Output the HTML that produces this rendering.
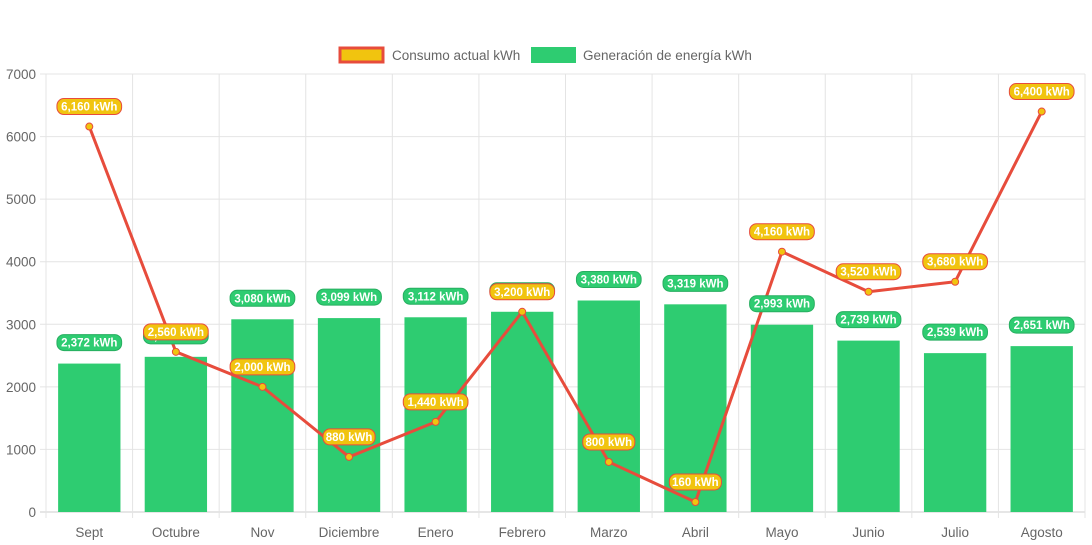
<!DOCTYPE html>
<html><head><meta charset="utf-8"><style>
body{margin:0;background:#fff;font-family:"Liberation Sans",Arial,sans-serif}
svg{display:block}
</style></head><body>
<svg id="chart" width="1092" height="545" xmlns="http://www.w3.org/2000/svg" font-family="Liberation Sans, Arial, sans-serif">
<g>
<g><rect x="340" y="48" width="43" height="14" fill="#f1c40f" stroke="#e74c3c" stroke-width="3"/><text x="392" y="60" font-size="13.5" fill="#666">Consumo actual kWh</text></g>
<g><rect x="531" y="47" width="45" height="16" fill="#2ecc71"/><text x="583" y="60" font-size="13.5" fill="#666">Generación de energía kWh</text></g>
</g>
<g id="grid"></g><g id="bars"></g><g id="line"></g><g id="labels"></g><g id="axes"></g>
</svg>
<script>
const categories=["Sept","Octubre","Nov","Diciembre","Enero","Febrero","Marzo","Abril","Mayo","Junio","Julio","Agosto"];
const generacion=[2372,2480,3080,3099,3112,3200,3380,3319,2993,2739,2539,2651];
const consumo=[6160,2560,2000,880,1440,3200,800,160,4160,3520,3680,6400];
const yTicks=[0,1000,2000,3000,4000,5000,6000,7000];
const NS="http://www.w3.org/2000/svg";
const L=46,R=1085,T=74,B=512,YMAX=7000;
const cw=(R-L)/categories.length;
const x=i=>L+cw*(i+0.5);
const y=v=>B-(v/YMAX)*(B-T);
function mk(p,tag,a){const e=document.createElementNS(NS,tag);for(const k in a)e.setAttribute(k,a[k]);document.getElementById(p).appendChild(e);return e;}
const fmt=v=>v.toLocaleString("en-US")+" kWh";
yTicks.forEach(t=>{
 const g=mk("grid","line",{x1:L-6,x2:R,y1:y(t),y2:y(t),stroke:t===0?"#ccc":"#e4e4e4","stroke-width":1});
 
 
 const tx=mk("axes","text",{x:L-10,y:y(t)+5,"text-anchor":"end","font-size":"13.5",fill:"#666"});
 tx.textContent=t;
 
 
});
for(let i=0;i<=categories.length;i++){
 const g=mk("grid","line",{x1:L+cw*i,x2:L+cw*i,y1:T,y2:B+6,stroke:"#e4e4e4","stroke-width":1});
 
 
}
categories.forEach((c,i)=>{
 const tx=mk("axes","text",{x:x(i),y:537,"text-anchor":"middle","font-size":"13.5",fill:"#666"});
 tx.textContent=c;
 
 
});
const bw=cw*0.72;
generacion.forEach((v,i)=>{
 const r=mk("bars","rect",{x:x(i)-bw/2,y:y(v),width:bw,height:B-y(v),fill:"#2ecc71"});
 
 
});
function pill(cx,cy,txt,fill,stroke,name){
 const w=txt.length*6.3+8;
 const r=mk("labels","rect",{x:cx-w/2,y:cy-8,width:w,height:16,rx:7,fill:fill,stroke:stroke,"stroke-width":1});
 
 
 const t=mk("labels","text",{x:cx,y:cy+4,"text-anchor":"middle","font-size":"11.5","font-weight":"bold",fill:"#fff"});
 t.textContent=txt;
 
 
}
generacion.forEach((v,i)=>pill(x(i),y(v)-21,fmt(v),"#2ecc71","#27ae60","bar-value-label"));
const pts=consumo.map((v,i)=>x(i)+","+y(v)).join(" ");
const pl=mk("line","polyline",{points:pts,fill:"none",stroke:"#e74c3c","stroke-width":3,"stroke-linejoin":"round"});


consumo.forEach((v,i)=>{
 const c=mk("line","circle",{cx:x(i),cy:y(v),r:3.5,fill:"#f1c40f",stroke:"#e74c3c","stroke-width":1});
 
 
});
consumo.forEach((v,i)=>pill(x(i),y(v)-20,fmt(v),"#f1c40f","#e74c3c","line-value-label"));
</script>
</body></html>
